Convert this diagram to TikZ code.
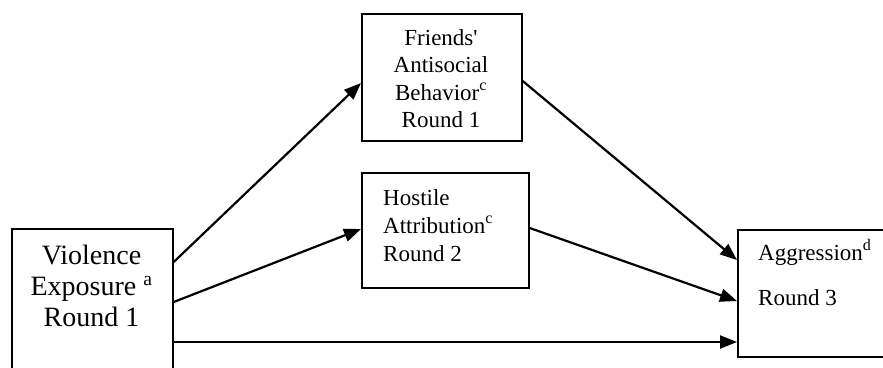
\documentclass[tikz,border=0pt]{standalone}
\usepackage{fontspec}
\setmainfont{Liberation Serif}
\usetikzlibrary{arrows.meta}
\begin{document}
\begin{tikzpicture}[x=1pt,y=1pt,
  box/.style={draw, line width=1.7pt, rectangle, inner sep=0pt, anchor=north west},
  txt/.style={inner sep=0pt, anchor=base},
  arr/.style={line width=2.2pt, -{Triangle[length=17pt,width=13pt]}}]
\useasboundingbox (0,0) rectangle (883,-367);
\clip (0,0) rectangle (883,-367);
% boxes
\node[box, minimum width=161pt, minimum height=200pt] (vb) at (11,-228) {};
\node[box, minimum width=160pt, minimum height=127pt] (fr) at (361,-13) {};
\node[box, minimum width=167pt, minimum height=115pt] (hb) at (361,-172) {};
\node[box, minimum width=200pt, minimum height=127pt] (ab) at (737,-229) {};
% texts
\node[txt] (vt) at (91.5,-264) {\parbox[t]{155pt}{\centering\fontsize{28}{31}\selectfont Violence\\Exposure \textsuperscript{a}\\Round 1}};
\node[txt] (ft) at (441,-45) {\parbox[t]{155pt}{\centering\fontsize{23}{27.5}\selectfont Friends\textquotesingle\\Antisocial\\Behavior\textsuperscript{c}\\Round 1}};
\node[txt, anchor=base west] (ht) at (383,-205) {\parbox[t]{140pt}{\raggedright\fontsize{23}{28}\selectfont Hostile\\Attribution\textsuperscript{c}\\Round 2}};
\node[txt, anchor=base west] (at) at (758,-260) {\parbox[t]{125pt}{\raggedright\fontsize{23}{45}\selectfont Aggression\textsuperscript{d}\\Round 3}};
% connectors
\draw[arr] ([yshift=-34pt]vb.north east) -- ([yshift=-70pt]fr.north west);
\draw[arr] ([yshift=-74pt]vb.north east) -- ([yshift=-57pt]hb.north west);
\draw[arr] ([yshift=-114pt]vb.north east) -- ([yshift=-113pt]ab.north west);
\draw[arr] ([yshift=-68pt]fr.north east) -- ([yshift=-31pt]ab.north west);
\draw[arr] ([yshift=-56pt]hb.north east) -- ([yshift=-72pt]ab.north west);
\end{tikzpicture}
\end{document}
